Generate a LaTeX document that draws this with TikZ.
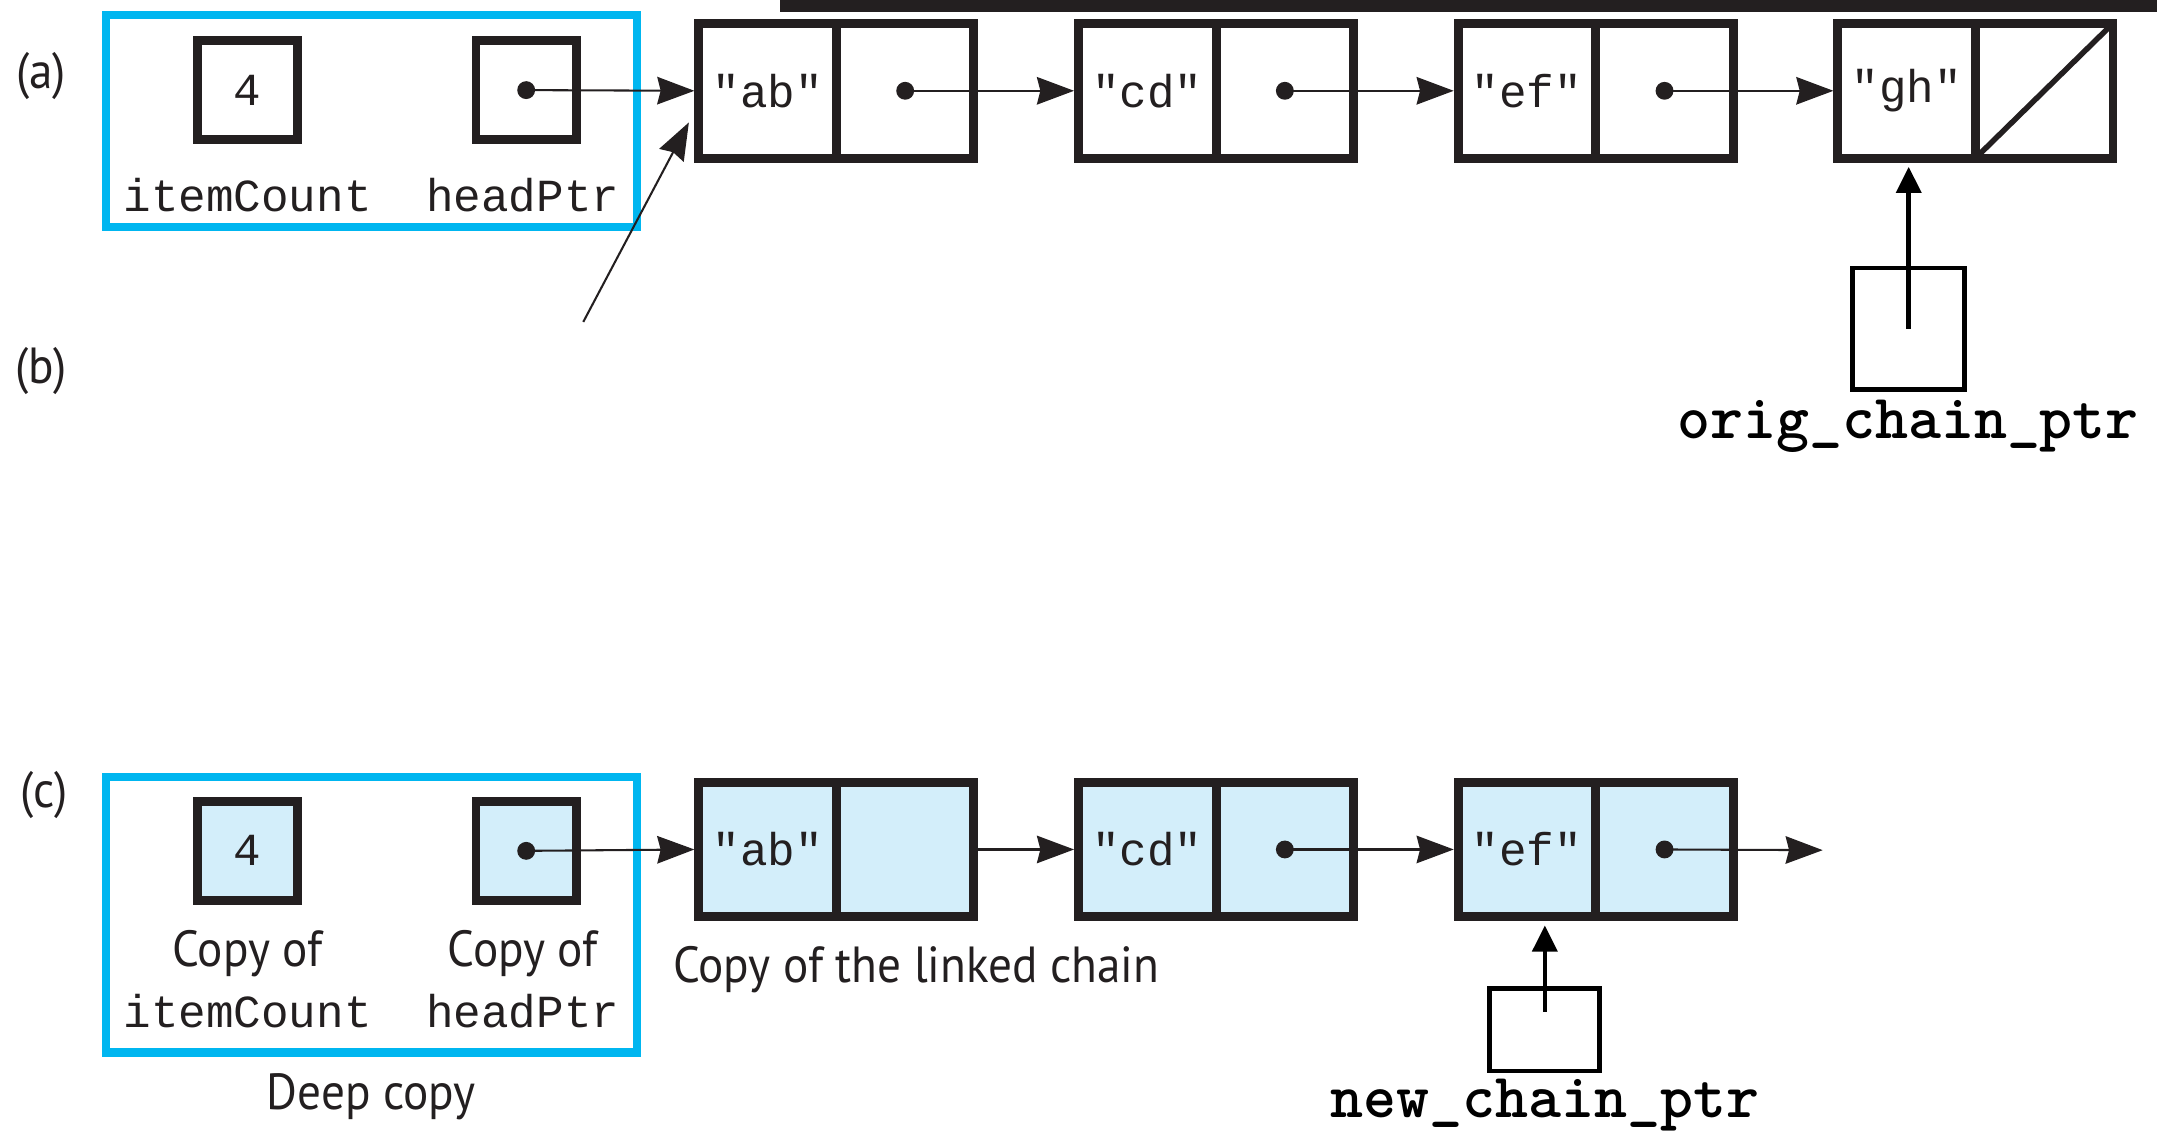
\documentclass[tikz,border=0pt]{standalone}
\usepackage{fontspec}
\usepackage{tikz}
\usetikzlibrary{arrows.meta,calc}
\newfontfamily\codefont{Liberation Mono}[Ligatures=TeXOff]
\newfontfamily\capfont{PT Sans}[FakeStretch=0.93]
\definecolor{inkgray}{HTML}{231F20}
\definecolor{cyanline}{HTML}{00B6F0}
\definecolor{copyblue}{HTML}{D3EEFA}

\begin{document}
\begin{tikzpicture}[x=0.02cm,y=-0.02cm]
	 \tikzstyle{cell}=[rectangle,draw=inkgray,line width=0.13cm,minimum width=2cm,minimum height=1.96cm,inner sep=0pt,font=\codefont\fontsize{19}{22}\selectfont,text=inkgray]
	 \tikzstyle{var}=[cell,minimum width=1.46cm,minimum height=1.44cm]
	 \tikzstyle{copied}=[fill=copyblue]
	 \tikzstyle{group}=[draw=cyanline,line width=0.12cm]
	 \tikzstyle{link}=[draw=inkgray,line width=0.03cm,-{Stealth[length=0.54cm,width=0.4cm,inset=0.05cm]}]
	 \tikzstyle{ptrbox}=[rectangle,draw=black,line width=0.07cm,minimum width=1.63cm,minimum height=1.77cm]
	 \tikzstyle{ptr}=[draw=black,line width=0.068cm,-{Triangle[length=0.38cm,width=0.36cm]}]
	 \tikzstyle{code}=[font=\codefont\fontsize{19}{22}\selectfont,text=inkgray,inner sep=0pt]
	 \tikzstyle{ptrname}=[font=\ttfamily\bfseries\fontsize{26}{30}\selectfont,inner sep=0pt]
	 \tikzstyle{caption}=[font=\capfont\fontsize{21}{25}\selectfont,text=inkgray,inner sep=0pt]
	 \useasboundingbox (0,0) rectangle (1568,822);
	 \fill[inkgray] (567,0) rectangle (1568,9);
	 % (a) the original object and its chain
	 \node[caption] (alabel) at (30,55) {(a)};
	 \draw[group] (77,11) rectangle (463,165);
	 \node[var] (count) at (180,65.5) {4};
	 \node[var] (head) at (382.5,65.5) {};
	 \node[code] (countlbl) at (180,142) {itemCount};
	 \node[code] (headlbl) at (380,142) {headPtr};
	 \node[cell] (ab) at (558,66) {"ab"};
	 \node[cell] (abnext) at (658,66) {};
	 \node[cell] (cd) at (834,66) {"cd"};
	 \node[cell] (cdnext) at (934,66) {};
	 \node[cell] (ef) at (1110,66) {"ef"};
	 \node[cell] (efnext) at (1210,66) {};
	 \node[cell] (gh) at (1386,66) {"gh"};
	 \node[cell] (ghnext) at (1486,66) {};
	 \draw[inkgray,line width=0.08cm] ($(ghnext.south west)+(3,-3)$) -- ($(ghnext.north east)+(-3,3)$);
	 \fill[inkgray] (head.center) circle[radius=0.13cm];
	 \fill[inkgray] (abnext.center) circle[radius=0.13cm];
	 \fill[inkgray] (cdnext.center) circle[radius=0.13cm];
	 \fill[inkgray] (efnext.center) circle[radius=0.13cm];
	 \draw[link] (head.center) -- (ab.west);
	 \draw[link] (abnext.center) -- (cd.west);
	 \draw[link] (cdnext.center) -- (ef.west);
	 \draw[link] (efnext.center) -- (gh.west);
	 % (b) the pointer walking the original chain
	 \node[caption] (blabel) at (30,270) {(b)};
	 \coordinate (bstart) at (424,234);
	 \draw[link] (bstart) -- ($(ab.west)+(-4,23)$);
	 \node[ptrbox] (origbox) at (1387.5,239) {};
	 \draw[ptr,shorten >=0.06cm] (origbox.center) -- (origbox.center |- gh.south);
	 \node[ptrname] (origlbl) at (1387,310) {orig\_chain\_ptr};
	 % (c) the deep copy
	 \node[caption] (clabel) at (32,578) {(c)};
	 \draw[group] (77,565) rectangle (463,765);
	 \node[var,copied] (ccount) at (180,618.5) {4};
	 \node[var,copied] (chead) at (382.5,618.5) {};
	 \node[caption] (ccountcap) at (180,693) {Copy of};
	 \node[code] (ccountlbl) at (180,735) {itemCount};
	 \node[caption] (cheadcap) at (380,693) {Copy of};
	 \node[code] (cheadlbl) at (380,735) {headPtr};
	 \node[caption] (deep) at (270,797) {Deep copy};
	 \node[cell,copied] (cab) at (558,617.5) {"ab"};
	 \node[cell,copied] (cabnext) at (658,617.5) {};
	 \node[cell,copied] (ccd) at (834,617.5) {"cd"};
	 \node[cell,copied] (ccdnext) at (934,617.5) {};
	 \node[cell,copied] (cef) at (1110,617.5) {"ef"};
	 \node[cell,copied] (cefnext) at (1210,617.5) {};
	 \node[caption] (chaincap) at (666,705) {Copy of the linked chain};
	 \coordinate (cend) at (1325,618);
	 \fill[inkgray] (chead.center) circle[radius=0.13cm];
	 \fill[inkgray] (ccdnext.center) circle[radius=0.13cm];
	 \fill[inkgray] (cefnext.center) circle[radius=0.13cm];
	 \draw[link] (chead.center) -- (cab.west);
	 \draw[link] (cabnext.east) -- (ccd.west);
	 \draw[link] (ccdnext.center) -- (cef.west);
	 \draw[link] (cefnext.center) -- (cend);
	 \node[ptrbox,minimum width=1.6cm,minimum height=1.2cm] (newbox) at (1123,748.5) {};
	 \draw[ptr,shorten >=0.06cm] ($(newbox.center)+(0,-13)$) -- (newbox.center |- cef.south);
	 \node[ptrname] (newlbl) at (1123,803) {new\_chain\_ptr};
\end{tikzpicture}
\end{document}
